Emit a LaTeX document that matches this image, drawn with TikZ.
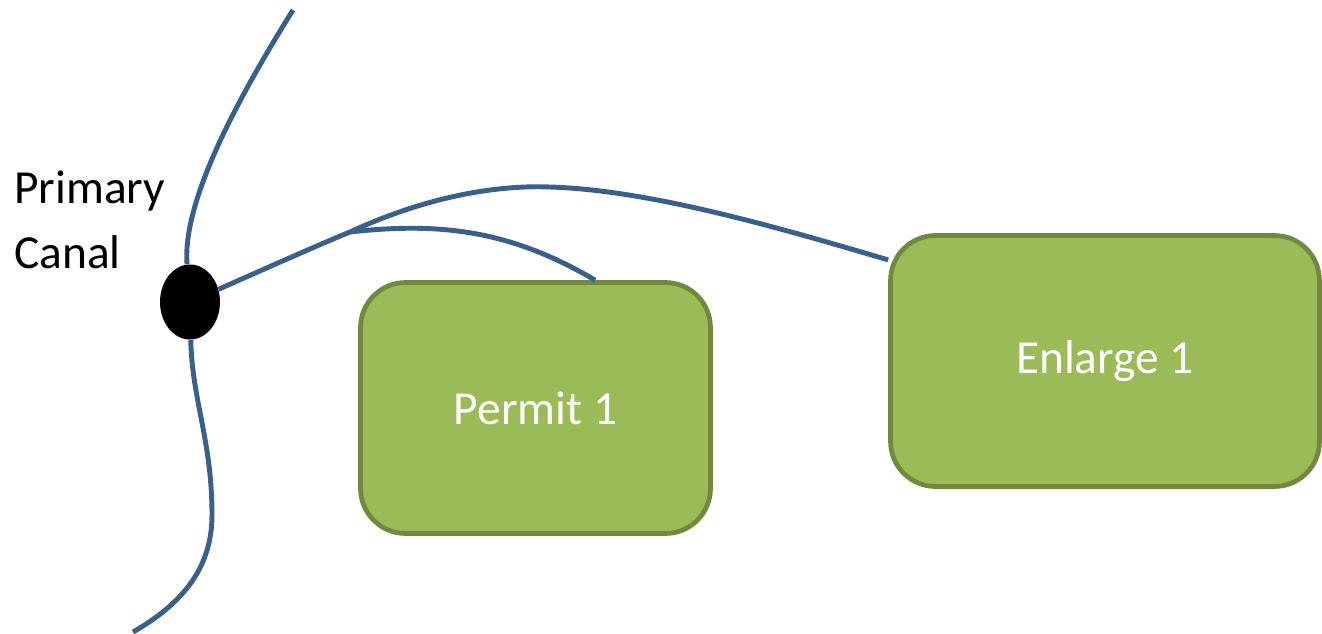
\documentclass[tikz,border=0pt]{standalone}
\usepackage{fontspec}
\setmainfont{Carlito}
\usepackage{xcolor}
\usetikzlibrary{shapes.geometric}
\definecolor{canalblue}{HTML}{3A5F8B}
\definecolor{boxfill}{HTML}{9BBB59}
\definecolor{boxline}{HTML}{71893F}
\tikzset{canal/.style = {draw = canalblue, line width = 2.8pt}}

\begin{document}
\begin{tikzpicture}[x = 0.02cm, y = -0.02cm,
		box/.style = {draw = boxline, fill = boxfill, line width = 2.7pt, rounded corners = 0.9cm, text = white, font = \fontsize{27}{32}\selectfont}]
	\useasboundingbox (0, 0) rectangle (1322, 633);
	\node [box, minimum width = 7.0cm, minimum height = 5.02cm] (permit) at (535.5, 408) {Permit 1};
	\node [box, minimum width = 8.58cm, minimum height = 5.02cm] (enlarge) at (1105, 361) {Enlarge 1};
	\node [ellipse, fill = black, minimum width = 1.2cm, minimum height = 1.5cm, inner sep = 0] (junction) at (190, 302) {};
	\node [anchor = west, align = left, inner sep = 0, font = \fontsize{27}{37}\selectfont] (label) at (14, 220) {Primary\\Canal};
	\coordinate (top) at (293, 10);
	\coordinate (bottom) at (133, 632);
	\coordinate (fork) at (350, 232);

	% canal through the junction
	\draw [canal] (top) .. controls (240, 95) and (182, 200) .. (junction);
	\draw [canal] (junction) .. controls (192, 400) and (212, 440) .. (212, 515) .. controls (212, 570) and (180, 605) .. (bottom);
	% branches
	\draw [canal] (junction) .. controls (280, 262) and (330, 240) .. (fork) .. controls (430, 195) and (500, 185) .. (550, 187) .. controls (650, 190) and (780, 228) .. (enlarge.155);
	\draw [canal] (fork) .. controls (440, 222) and (510, 230) .. (permit.65);
\end{tikzpicture}
\end{document}
